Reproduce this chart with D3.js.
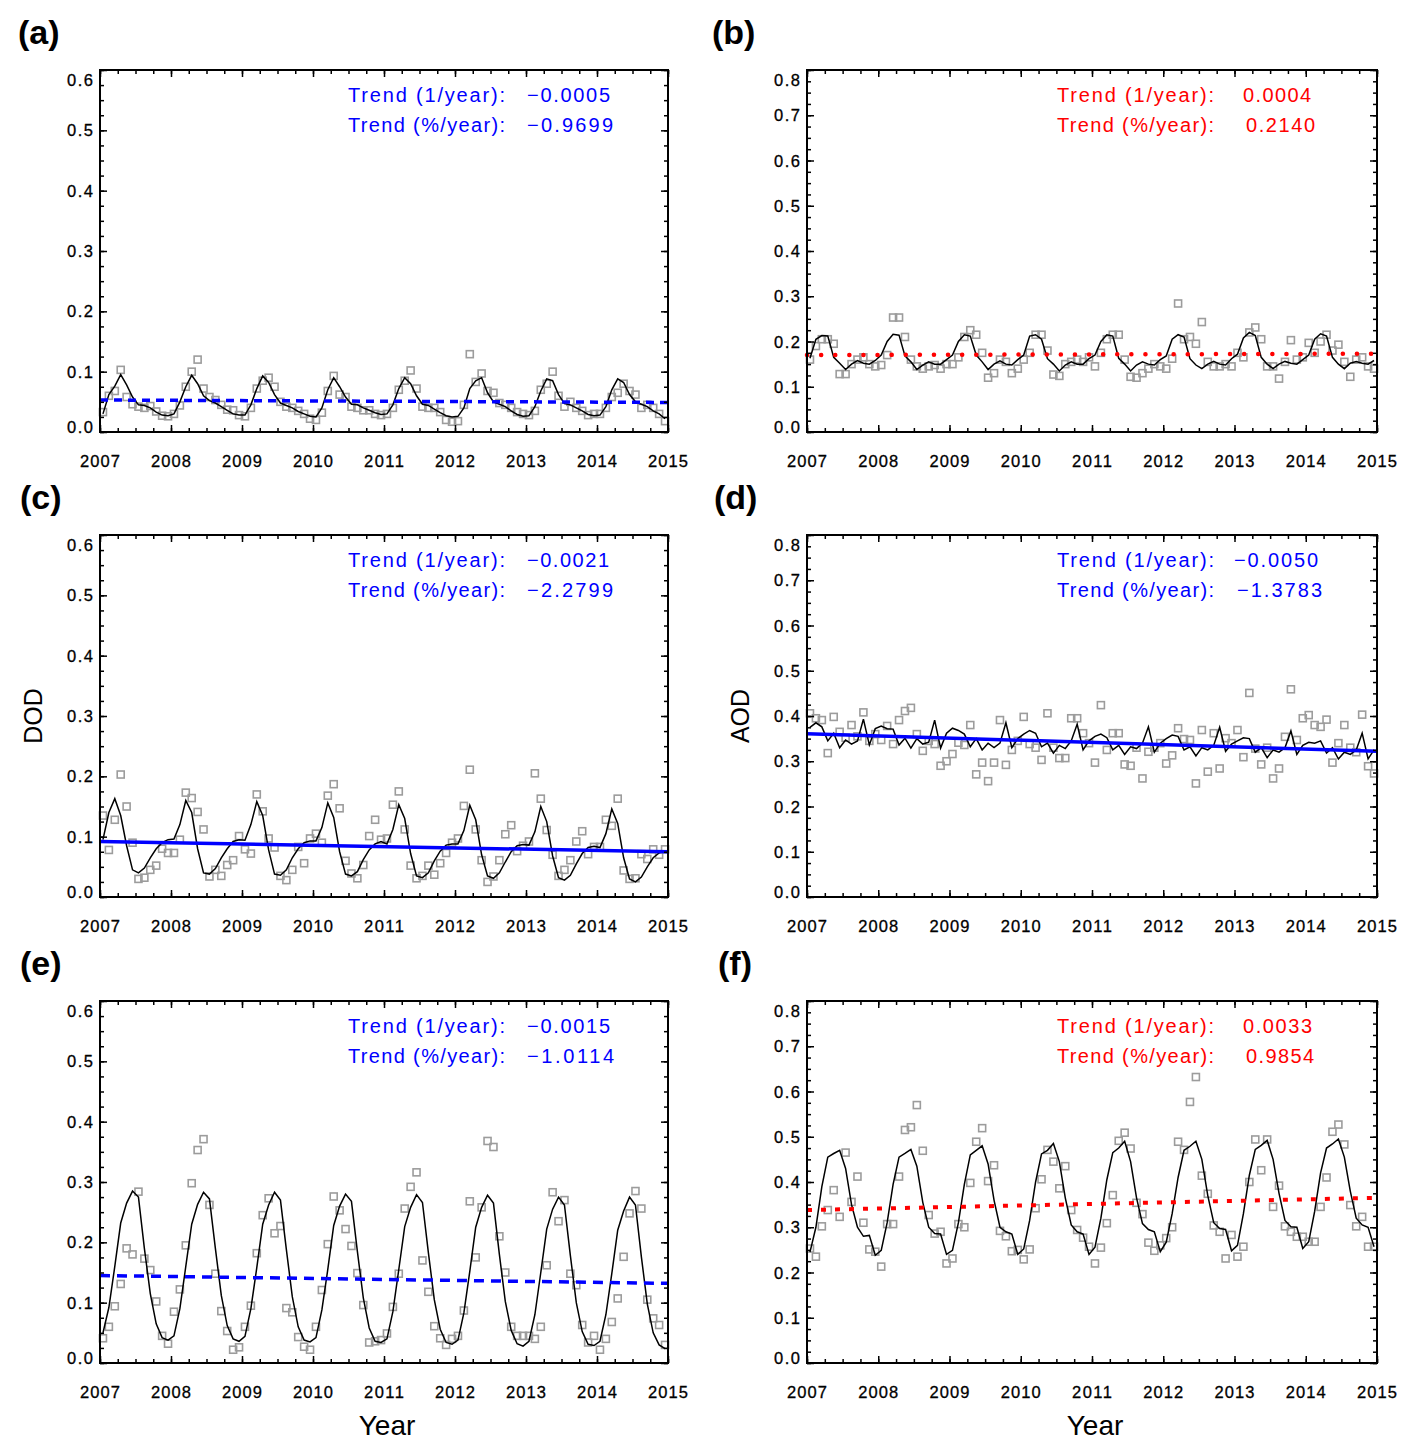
<!DOCTYPE html>
<html><head><meta charset="utf-8">
<script src="https://cdn.jsdelivr.net/npm/d3@7"></script>
<style>body{margin:0;background:#fff}svg{display:block}</style>
</head><body>
<svg id="chart" width="1410" height="1453"></svg>
<script>
// ---------- tick values / labels ----------
const yearTicks = [2007, 2008, 2009, 2010, 2011, 2012, 2013, 2014, 2015];
const yearTickLabels = ["2007","2008","2009","2010","2011","2012","2013","2014","2015"];
const yTicks06 = [0, 0.1, 0.2, 0.3, 0.4, 0.5, 0.6];
const yTickLabels06 = ["0.0","0.1","0.2","0.3","0.4","0.5","0.6"];
const yTicks08 = [0, 0.1, 0.2, 0.3, 0.4, 0.5, 0.6, 0.7, 0.8];
const yTickLabels08 = ["0.0","0.1","0.2","0.3","0.4","0.5","0.6","0.7","0.8"];
const trendYears = [2007, 2015];

// ---------- (a) ----------
const aBlack = [
 .030,.062,.076,.095,.078,.058,.045,.044,.040,.033,.028,.027,
 .030,.050,.075,.094,.080,.060,.052,.048,.042,.036,.030,.028,
 .028,.045,.072,.093,.082,.062,.048,.044,.040,.034,.030,.026,
 .025,.040,.070,.090,.075,.058,.046,.045,.040,.036,.032,.029,
 .030,.045,.072,.090,.080,.060,.046,.044,.038,.032,.027,.025,
 .026,.040,.072,.085,.090,.065,.050,.046,.042,.035,.029,.026,
 .027,.042,.068,.088,.085,.062,.047,.045,.040,.035,.029,.027,
 .028,.042,.070,.088,.082,.062,.050,.046,.042,.035,.030,.022];
const aGray = [
 .033,.060,.068,.103,.058,.046,.042,.040,.043,.034,.027,.026,
 .030,.044,.075,.100,.120,.072,.058,.053,.045,.037,.036,.028,
 .026,.040,.072,.085,.090,.075,.050,.042,.040,.035,.030,.022,
 .020,.032,.068,.093,.062,.058,.042,.040,.036,.036,.030,.028,
 .030,.040,.070,.085,.102,.072,.042,.040,.040,.033,.020,.017,
 .018,.045,.129,.083,.097,.068,.065,.048,.045,.040,.033,.030,
 .028,.035,.070,.080,.100,.060,.042,.050,.040,.035,.028,.030,
 .030,.040,.058,.065,.080,.068,.062,.040,.045,.040,.030,.018];
const aTrend = [0.053, 0.049];

// ---------- (b) ----------
const bBlack = [
 .163,.205,.213,.212,.165,.152,.138,.150,.158,.152,.150,.158,
 .170,.200,.216,.214,.168,.155,.138,.148,.155,.150,.150,.160,
 .170,.200,.215,.212,.170,.155,.138,.150,.157,.150,.148,.160,
 .170,.212,.215,.205,.162,.150,.135,.148,.155,.150,.150,.162,
 .170,.200,.215,.212,.163,.150,.135,.148,.155,.150,.148,.160,
 .168,.205,.215,.210,.162,.148,.140,.150,.156,.150,.148,.162,
 .172,.208,.220,.213,.165,.150,.140,.150,.156,.152,.150,.160,
 .170,.205,.217,.212,.165,.150,.140,.152,.156,.152,.150,.158];
const bGray = [
 .160,.190,.205,.205,.195,.128,.128,.150,.160,.165,.150,.145,
 .148,.170,.253,.253,.210,.160,.145,.140,.145,.148,.140,.150,
 .150,.165,.210,.225,.215,.175,.120,.130,.160,.155,.130,.140,
 .160,.175,.215,.215,.180,.127,.124,.150,.155,.160,.155,.165,
 .145,.175,.205,.215,.215,.160,.122,.120,.130,.140,.150,.145,
 .140,.162,.284,.205,.210,.195,.243,.155,.145,.145,.150,.145,
 .175,.165,.220,.231,.205,.145,.145,.118,.155,.203,.160,.165,
 .197,.175,.200,.215,.180,.193,.155,.122,.160,.165,.145,.140];
const bTrend = [0.170, 0.173];

// ---------- (c) ----------
const cBlack = [
 .095,.140,.163,.135,.085,.045,.040,.048,.065,.080,.090,.095,
 .096,.120,.160,.140,.080,.040,.038,.047,.065,.080,.092,.095,
 .094,.120,.158,.135,.078,.038,.036,.045,.065,.080,.090,.093,
 .093,.115,.156,.132,.075,.038,.035,.042,.062,.078,.088,.092,
 .088,.112,.153,.130,.072,.035,.032,.040,.060,.076,.086,.088,
 .088,.110,.152,.128,.070,.035,.031,.040,.058,.075,.085,.087,
 .086,.108,.150,.125,.068,.032,.028,.036,.055,.072,.082,.084,
 .082,.105,.146,.122,.065,.030,.025,.033,.050,.065,.073,.076];
const cGray = [
 .135,.078,.128,.203,.150,.090,.030,.032,.045,.052,.080,.073,
 .073,.095,.173,.164,.141,.112,.034,.045,.035,.053,.061,.101,
 .079,.072,.170,.142,.097,.082,.035,.028,.045,.083,.056,.097,
 .105,.090,.168,.187,.147,.060,.039,.031,.053,.101,.128,.095,
 .097,.153,.175,.112,.052,.031,.035,.052,.037,.056,.073,.090,
 .097,.151,.211,.112,.061,.025,.034,.061,.104,.119,.076,.085,
 .092,.205,.163,.111,.070,.035,.045,.061,.092,.109,.071,.083,
 .083,.128,.118,.163,.044,.030,.031,.071,.063,.079,.070,.079];
const cTrend = [0.092, 0.075];

// ---------- (d) ----------
const dBlack = [
 .375,.385,.376,.345,.362,.330,.347,.338,.345,.393,.336,.372,
 .378,.372,.371,.336,.351,.329,.350,.338,.342,.391,.329,.362,
 .373,.368,.360,.332,.350,.325,.340,.330,.340,.385,.330,.350,
 .360,.368,.362,.332,.340,.318,.335,.328,.345,.382,.325,.345,
 .355,.360,.352,.325,.335,.315,.332,.328,.340,.376,.320,.340,
 .350,.358,.355,.325,.332,.312,.330,.325,.335,.375,.322,.338,
 .345,.352,.350,.320,.330,.308,.325,.320,.330,.367,.315,.335,
 .342,.340,.345,.318,.330,.305,.320,.315,.325,.362,.305,.325];
const dGray = [
 .406,.395,.391,.318,.398,.365,.352,.380,.355,.408,.345,.360,
 .347,.378,.338,.391,.411,.418,.360,.323,.345,.338,.290,.300,
 .316,.341,.336,.380,.271,.297,.256,.297,.391,.292,.325,.345,
 .398,.338,.330,.303,.406,.330,.307,.307,.395,.395,.362,.340,
 .297,.424,.325,.362,.362,.293,.290,.330,.262,.321,.330,.340,
 .295,.313,.373,.349,.347,.251,.369,.277,.362,.284,.351,.340,
 .369,.309,.451,.328,.293,.330,.262,.284,.354,.459,.347,.395,
 .402,.380,.376,.392,.297,.340,.380,.330,.320,.403,.289,.273];
const dTrend = [0.361, 0.322];

// ---------- (e) ----------
const eBlack = [
 .050,.092,.160,.232,.265,.285,.275,.190,.115,.065,.042,.038,
 .045,.090,.160,.230,.263,.283,.272,.190,.112,.062,.040,.036,
 .044,.090,.158,.230,.262,.283,.270,.188,.110,.060,.038,.035,
 .042,.088,.155,.228,.260,.280,.268,.185,.108,.058,.036,.034,
 .040,.085,.155,.226,.258,.279,.266,.183,.105,.056,.034,.031,
 .038,.083,.152,.225,.258,.278,.265,.180,.102,.054,.032,.028,
 .036,.080,.150,.222,.255,.275,.262,.178,.100,.052,.031,.029,
 .036,.080,.148,.220,.252,.275,.262,.176,.098,.050,.030,.024];
const eGray = [
 .041,.060,.094,.131,.190,.180,.284,.173,.154,.102,.045,.032,
 .085,.122,.195,.298,.353,.371,.262,.148,.086,.053,.022,.026,
 .060,.095,.182,.245,.273,.215,.227,.091,.084,.043,.027,.022,
 .060,.121,.197,.276,.253,.222,.194,.149,.096,.034,.036,.038,
 .049,.093,.148,.256,.292,.316,.170,.118,.061,.041,.030,.040,
 .045,.087,.268,.175,.258,.368,.358,.210,.150,.060,.045,.045,
 .045,.040,.060,.162,.283,.235,.270,.148,.129,.063,.034,.045,
 .022,.040,.068,.107,.176,.248,.285,.256,.105,.074,.063,.030];
const eTrend = [0.145, 0.132];

// ---------- (f) ----------
const fBlack = [
 .245,.300,.390,.455,.463,.470,.430,.350,.300,.280,.282,.238,
 .249,.310,.395,.455,.463,.472,.435,.355,.300,.286,.285,.240,
 .249,.310,.395,.460,.470,.480,.440,.360,.300,.290,.285,.240,
 .252,.315,.400,.462,.470,.485,.445,.365,.305,.290,.285,.240,
 .256,.320,.405,.465,.475,.490,.445,.365,.308,.295,.290,.246,
 .267,.330,.410,.470,.479,.490,.450,.370,.310,.297,.295,.248,
 .260,.330,.415,.472,.481,.492,.450,.375,.315,.301,.300,.253,
 .268,.335,.420,.475,.484,.495,.455,.380,.320,.305,.300,.257];
const fGray = [
 .253,.235,.302,.338,.382,.323,.465,.356,.412,.310,.251,.246,
 .213,.307,.307,.412,.515,.521,.570,.469,.327,.286,.290,.220,
 .231,.307,.300,.398,.489,.519,.402,.437,.292,.280,.247,.250,
 .229,.251,.342,.406,.471,.445,.386,.435,.338,.294,.277,.257,
 .220,.255,.309,.371,.491,.509,.474,.354,.329,.266,.248,.260,
 .276,.300,.489,.471,.577,.632,.414,.374,.304,.290,.231,.283,
 .235,.257,.400,.494,.426,.494,.345,.392,.302,.290,.279,.279,
 .268,.268,.345,.410,.511,.527,.483,.349,.302,.323,.257,.257];
const fTrend = [0.338, 0.365];

// ---------- panel definitions (layout + style) ----------
const BLUE = "#0000ff", RED = "#ff0000";
const panels = [
 {letter:"(a)", col:0, row:0, ymax:0.6, ticks:yTicks06, tickLabels:yTickLabels06,
  black:aBlack, gray:aGray, trend:aTrend, color:BLUE, dash:"8,6", cap:"butt", sw:3.5,
  v1:"\u22120.0005", v2:"\u22120.9699", w1:83, w2:86, vx1:427, vx2:427},
 {letter:"(b)", col:1, row:0, ymax:0.8, ticks:yTicks08, tickLabels:yTickLabels08,
  black:bBlack, gray:bGray, trend:bTrend, color:RED, dash:"0.1,14", cap:"round", sw:4.5,
  v1:"0.0004", v2:"0.2140", w1:68, w2:69, vx1:436, vx2:439},
 {letter:"(c)", col:0, row:1, ymax:0.6, ticks:yTicks06, tickLabels:yTickLabels06,
  black:cBlack, gray:cGray, trend:cTrend, color:BLUE, dash:null, cap:"butt", sw:3.5, ylabel:"DOD",
  v1:"\u22120.0021", v2:"\u22122.2799", w1:82, w2:86, vx1:427, vx2:427},
 {letter:"(d)", col:1, row:1, ymax:0.8, ticks:yTicks08, tickLabels:yTickLabels08,
  black:dBlack, gray:dGray, trend:dTrend, color:BLUE, dash:null, cap:"butt", sw:3.5, ylabel:"AOD",
  v1:"\u22120.0050", v2:"\u22121.3783", w1:84, w2:85, vx1:427, vx2:430},
 {letter:"(e)", col:0, row:2, ymax:0.6, ticks:yTicks06, tickLabels:yTickLabels06,
  black:eBlack, gray:eGray, trend:eTrend, color:BLUE, dash:"10,7", cap:"butt", sw:3.5, xlabel:"Year",
  v1:"\u22120.0015", v2:"\u22121.0114", w1:83, w2:87, vx1:427, vx2:427},
 {letter:"(f)", col:1, row:2, ymax:0.8, ticks:yTicks08, tickLabels:yTickLabels08,
  black:fBlack, gray:fGray, trend:fTrend, color:RED, dash:"5,9", cap:"butt", sw:4, xlabel:"Year",
  v1:"0.0033", v2:"0.9854", w1:69, w2:68, vx1:436, vx2:439}
];

const colLeft = [100, 807], colWidth = [568, 570];
const rowTop = [70, 535, 1001], plotH = 362;
const letterX = [[18, 712], [20, 714], [20, 718]];
const FONT = "'Liberation Sans', Arial, sans-serif";

const svg = d3.select("#chart");

panels.forEach(p => {
  const L = colLeft[p.col], W = colWidth[p.col], T = rowTop[p.row], B = T + plotH;
  const x = d3.scaleLinear().domain([2007, 2015]).range([L, L + W]);
  const y = d3.scaleLinear().domain([0, p.ymax]).range([B, T]);
  const tm = i => 2007 + (i + 0.5) / 12;
  const g = svg.append("g");

  // gray monthly squares
  g.selectAll("rect.sq").data(p.gray).join("rect")
    .attr("x", (d, i) => x(tm(i)) - 3.5).attr("y", d => y(d) - 3.5)
    .attr("width", 7).attr("height", 7)
    .attr("fill", "none").attr("stroke", "#9c9c9c").attr("stroke-width", 1.6);

  // black smoothed line
  g.append("path").datum(p.black)
    .attr("d", d3.line().x((d, i) => x(tm(i))).y(d => y(d)))
    .attr("fill", "none").attr("stroke", "#000").attr("stroke-width", 1.5);

  // trend line
  const tr = g.append("path").datum(p.trend)
    .attr("d", d3.line().x((d, i) => x(trendYears[i])).y(d => y(d)))
    .attr("fill", "none").attr("stroke", p.color)
    .attr("stroke-width", p.sw)
    .attr("stroke-linecap", p.cap);
  if (p.dash) tr.attr("stroke-dasharray", p.dash);

  // axes ticks (inward, mirrored)
  const minorX = d3.range(2007, 2015.001, 0.25);
  const minorY = d3.range(0, p.ymax + 1e-6, 0.025);
  const mk = (axis, vals, size, tx, ty) => {
    const a = g.append("g").attr("transform", `translate(${tx},${ty})`)
      .call(axis.tickValues(vals).tickSize(size).tickFormat(""));
    a.select(".domain").remove();
    a.selectAll("line").attr("stroke", "#000").attr("stroke-width", 1.5);
  };
  mk(d3.axisBottom(x), yearTicks, -7, 0, B);
  mk(d3.axisBottom(x), minorX, -4, 0, B);
  mk(d3.axisTop(x), yearTicks, -7, 0, T);
  mk(d3.axisTop(x), minorX, -4, 0, T);
  mk(d3.axisLeft(y), p.ticks, -7, L, 0);
  mk(d3.axisLeft(y), minorY, -4, L, 0);
  mk(d3.axisRight(y), p.ticks, -7, L + W, 0);
  mk(d3.axisRight(y), minorY, -4, L + W, 0);

  // frame
  g.append("rect").attr("x", L).attr("y", T).attr("width", W).attr("height", plotH)
    .attr("fill", "none").attr("stroke", "#000").attr("stroke-width", 2);

  // y tick labels
  g.selectAll("text.yl").data(p.ticks).join("text")
    .attr("x", L - 7)
    .attr("y", d => Math.min(Math.max(y(d), T + 10), B - 5) + 6)
    .attr("text-anchor", "end").attr("font-family", FONT).attr("font-size", 16.5)
    .attr("stroke", "#000").attr("stroke-width", 0.3)
    .attr("textLength", 26).attr("lengthAdjust", "spacing")
    .text((d, i) => p.tickLabels[i]);

  // x tick labels
  g.selectAll("text.xl").data(yearTicks).join("text")
    .attr("x", d => x(d) - 20).attr("y", B + 35)
    .attr("font-family", FONT).attr("font-size", 16.5)
    .attr("stroke", "#000").attr("stroke-width", 0.3)
    .attr("textLength", 40).attr("lengthAdjust", "spacing")
    .text((d, i) => yearTickLabels[i]);

  // trend annotation
  const tx = L + (p.col === 0 ? 248 : 250);
  const lines = [["Trend (1/year):", p.v1, p.w1, p.vx1], ["Trend (%/year):", p.v2, p.w2, p.vx2]];
  lines.forEach((ln, k) => {
    const by = T + 32 + k * 30;
    g.append("text").attr("x", tx).attr("y", by).attr("fill", p.color)
      .attr("font-family", FONT).attr("font-size", 20)
      .attr("textLength", 157).attr("lengthAdjust", "spacing").text(ln[0]);
    g.append("text").attr("x", L + ln[3]).attr("y", by).attr("fill", p.color)
      .attr("font-family", FONT).attr("font-size", 20)
      .attr("textLength", ln[2]).attr("lengthAdjust", "spacing").text(ln[1]);
  });

  // panel letter
  svg.append("text").attr("x", letterX[p.row][p.col]).attr("y", T - 26)
    .attr("font-family", FONT).attr("font-weight", "bold").attr("font-size", 34)
    .text(p.letter);

  // axis titles
  if (p.ylabel) {
    svg.append("text").attr("transform", `translate(${L - 58},${T + 181}) rotate(-90)`)
      .attr("text-anchor", "middle").attr("font-family", FONT).attr("font-size", 25)
      .text(p.ylabel);
  }
  if (p.xlabel) {
    svg.append("text").attr("x", L + W / 2 + 3).attr("y", B + 72)
      .attr("text-anchor", "middle").attr("font-family", FONT).attr("font-size", 28)
      .text(p.xlabel);
  }
});
</script>
</body></html>
